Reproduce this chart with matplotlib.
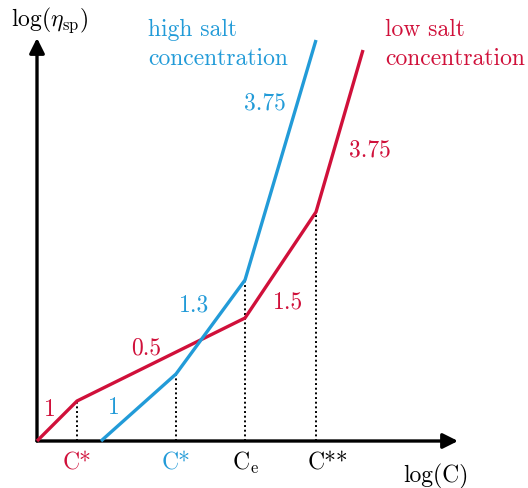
import matplotlib

matplotlib.use("Agg")
import matplotlib.pyplot as plt

plt.rcParams["font.family"] = ["cmr10", "DejaVu Serif"]
plt.rcParams["mathtext.fontset"] = "cm"
plt.rcParams["axes.unicode_minus"] = False

RED = "#d0103a"
BLUE = "#229bd8"

# log(C) / log(eta_sp) in arbitrary units, origin at the axis corner
low_salt_x = [0.0, 0.40, 2.08, 2.79, 3.26]
low_salt_y = [0.0, 0.40, 1.23, 2.29, 3.91]
high_salt_x = [0.64, 1.39, 2.08, 2.79]
high_salt_y = [0.0, 0.67, 1.61, 4.01]

# slope labels (text, x, y)
low_salt_slopes = [("1", 0.13, 0.31), ("0.5", 1.09, 0.93), ("1.5", 2.51, 1.39), ("3.75", 3.33, 2.91)]
high_salt_slopes = [("1", 0.77, 0.33), ("1.3", 1.57, 1.36), ("3.75", 2.28, 3.38)]

# characteristic concentrations: label, x, height of curve, colour
crit_labels = ["C*", "C*", r"$\mathrm{C}_\mathrm{e}$", "C**"]
crit_x = [0.40, 1.39, 2.08, 2.79]
crit_y = [0.40, 0.67, 1.61, 2.29]
crit_colors = [RED, BLUE, "black", "black"]

X_END = 4.21
Y_END = 4.03


def main() -> None:
    fig = plt.figure(figsize=(5.28, 4.88), dpi=100)
    ax = fig.add_axes([0, 0, 1, 1])
    ax.set_xlim(-0.37, 4.91)
    ax.set_ylim(-0.47, 4.41)
    ax.axis("off")

    # axes with arrow heads
    arrow = dict(arrowstyle="-|>,head_length=0.9,head_width=0.45", color="black", lw=2.4,
                 shrinkA=0, shrinkB=0)
    ax.annotate("", xy=(X_END, 0), xytext=(0, 0), arrowprops=arrow)
    ax.annotate("", xy=(0, Y_END), xytext=(0, 0), arrowprops=arrow)

    for x, y in zip(crit_x, crit_y):
        ax.plot([x, x], [0, y], color="black", lw=1.4, ls=(0, (1, 1.4)), zorder=1)

    ax.plot(low_salt_x, low_salt_y, color=RED, lw=2.4, solid_capstyle="butt", zorder=3)
    ax.plot(high_salt_x, high_salt_y, color=BLUE, lw=2.4, solid_capstyle="butt", zorder=3)

    fs = 17
    for text, x, y in low_salt_slopes:
        ax.text(x, y, text, color=RED, fontsize=fs, ha="center", va="center")
    for text, x, y in high_salt_slopes:
        ax.text(x, y, text, color=BLUE, fontsize=fs, ha="center", va="center")

    for label, x, color in zip(crit_labels, crit_x, crit_colors):
        if label == "C**":
            # the C sits on the line, the stars run off to the right
            ax.text(x - 0.08, -0.22, label, color=color, fontsize=fs, ha="left", va="center")
        else:
            ax.text(x, -0.22, label, color=color, fontsize=fs, ha="center", va="center")

    ax.text(1.11, 3.97, "high salt\nconcentration", color=BLUE, fontsize=fs,
            ha="left", va="center", linespacing=1.4)
    ax.text(3.48, 3.97, "low salt\nconcentration", color=RED, fontsize=fs,
            ha="left", va="center", linespacing=1.4)

    ax.text(0.13, 4.21, r"$\mathrm{log}(\eta_{\mathrm{sp}})$", fontsize=fs, ha="center", va="center")
    ax.text(3.99, -0.35, "log(C)", fontsize=fs, ha="center", va="center")

    fig.savefig("out.png", dpi=100)


if __name__ == "__main__":
    main()
